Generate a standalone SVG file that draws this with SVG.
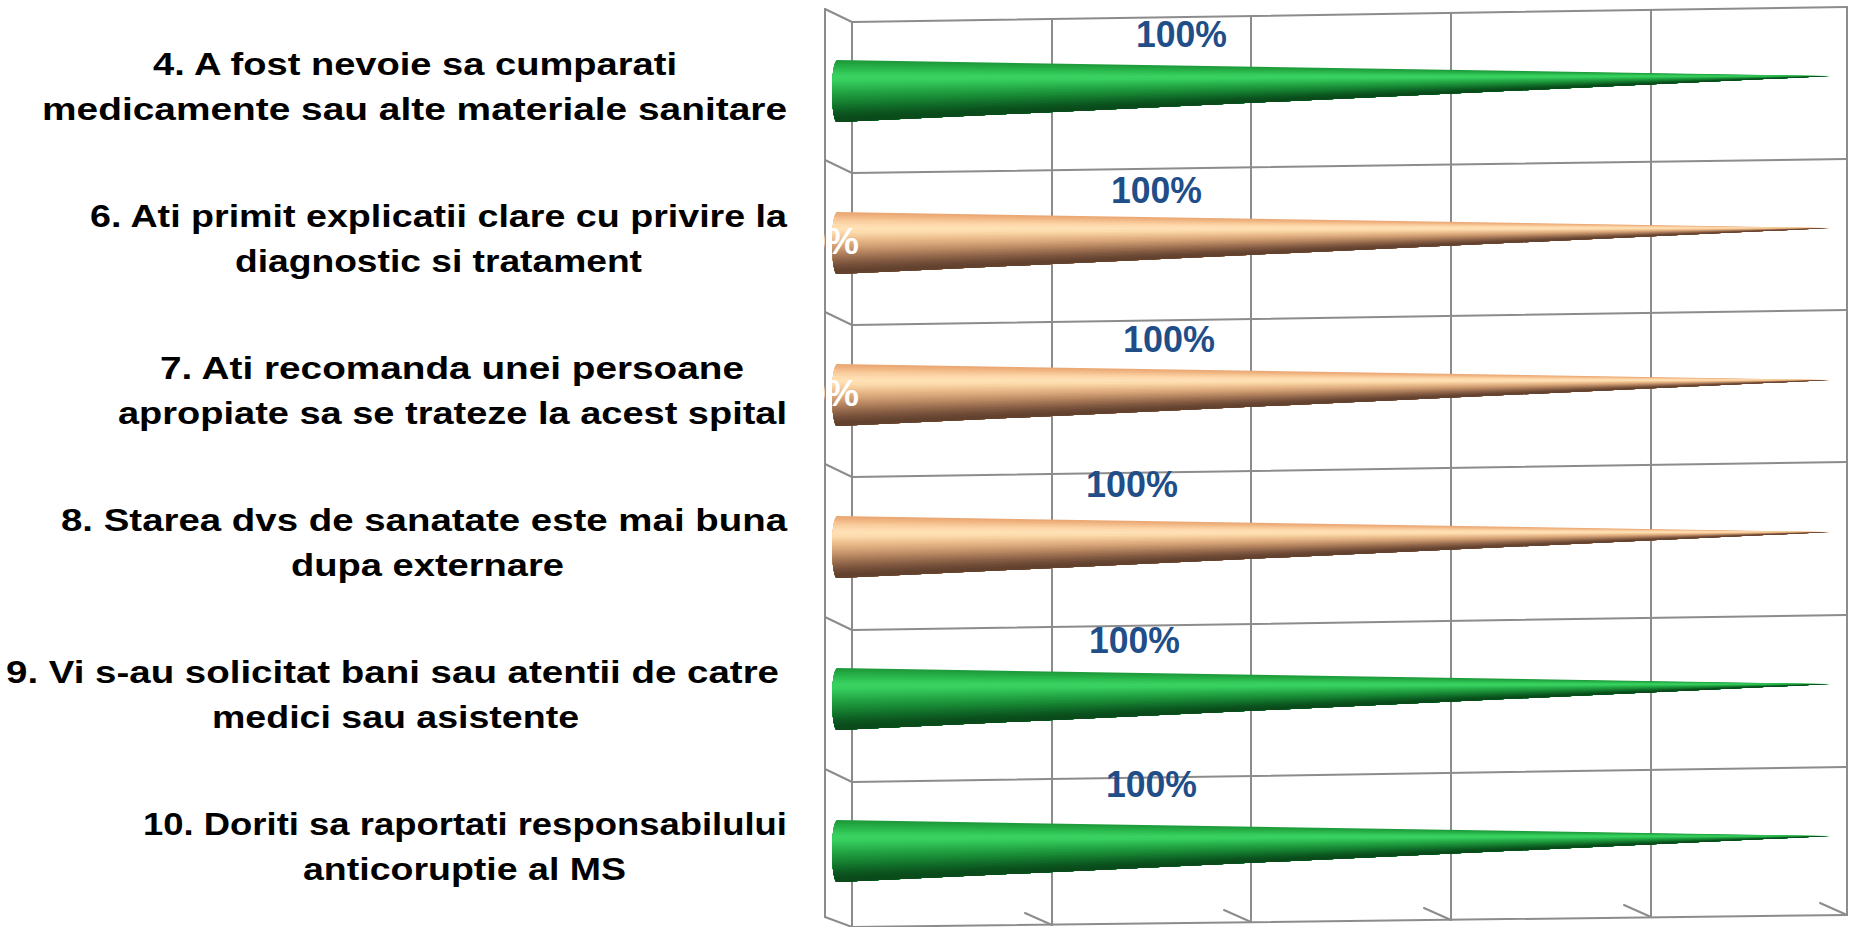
<svg xmlns="http://www.w3.org/2000/svg" xmlns:xlink="http://www.w3.org/1999/xlink" width="1850" height="927" viewBox="0 0 1850 927">
<style>
.grid{stroke:#8c8c8c;stroke-width:2;fill:none;stroke-linecap:round}
.lbl{font-family:"Liberation Sans",Arial,sans-serif;font-weight:bold;font-size:32px;fill:#000}
.val{font-family:"Liberation Sans",Arial,sans-serif;font-weight:bold;font-size:37px;fill:#1f4e89}
.wval{font-family:"Liberation Sans",Arial,sans-serif;font-weight:bold;font-size:37px;fill:#fff}
</style>
<defs>
<clipPath id="coneClip"><path d="M837,-31 L1830,-15 L837,31 A5,31 0 0 1 837,-31 Z"/></clipPath>
<g id="coneG">
<g clip-path="url(#coneClip)">
<polygon points="1830,-15 780,-80 780,80" fill="#1e9b3b"/>
<polygon points="1830,-15 780,-29.85 780,80" fill="#21a23f"/>
<polygon points="1830,-15 780,-27.8 780,80" fill="#24a944"/>
<polygon points="1830,-15 780,-25.75 780,80" fill="#27b149"/>
<polygon points="1830,-15 780,-23.7 780,80" fill="#2bb94e"/>
<polygon points="1830,-15 780,-21.65 780,80" fill="#2fc053"/>
<polygon points="1830,-15 780,-19.6 780,80" fill="#33c859"/>
<polygon points="1830,-15 780,-17.55 780,80" fill="#36cd5d"/>
<polygon points="1830,-15 780,-15.5 780,80" fill="#3ad262"/>
<polygon points="1830,-15 780,-13.45 780,80" fill="#39d060"/>
<polygon points="1830,-15 780,-11.4 780,80" fill="#38cf5f"/>
<polygon points="1830,-15 780,-9.35 780,80" fill="#34c85b"/>
<polygon points="1830,-15 780,-7.3 780,80" fill="#31c257"/>
<polygon points="1830,-15 780,-5.25 780,80" fill="#2dba52"/>
<polygon points="1830,-15 780,-3.2 780,80" fill="#2ab34d"/>
<polygon points="1830,-15 780,-1.15 780,80" fill="#26ac48"/>
<polygon points="1830,-15 780,0.9 780,80" fill="#23a544"/>
<polygon points="1830,-15 780,2.95 780,80" fill="#209e40"/>
<polygon points="1830,-15 780,5 780,80" fill="#1e973d"/>
<polygon points="1830,-15 780,7.05 780,80" fill="#1b9039"/>
<polygon points="1830,-15 780,9.1 780,80" fill="#198a36"/>
<polygon points="1830,-15 780,11.15 780,80" fill="#178232"/>
<polygon points="1830,-15 780,13.2 780,80" fill="#157b2f"/>
<polygon points="1830,-15 780,15.25 780,80" fill="#13732c"/>
<polygon points="1830,-15 780,17.3 780,80" fill="#116c29"/>
<polygon points="1830,-15 780,19.35 780,80" fill="#0f6526"/>
<polygon points="1830,-15 780,21.4 780,80" fill="#0e5e23"/>
<polygon points="1830,-15 780,23.45 780,80" fill="#0c5820"/>
<polygon points="1830,-15 780,25.5 780,80" fill="#0b521e"/>
<polygon points="1830,-15 780,27.5 780,80" fill="#0a4e1c"/>
<polygon points="1830,-15 780,29.5 780,80" fill="#0a4a1b"/>
</g>
</g>
<g id="coneO">
<g clip-path="url(#coneClip)">
<polygon points="1830,-15 780,-80 780,80" fill="#eaa874"/>
<polygon points="1830,-15 780,-29.85 780,80" fill="#eeb07d"/>
<polygon points="1830,-15 780,-27.8 780,80" fill="#f2b987"/>
<polygon points="1830,-15 780,-25.75 780,80" fill="#f5c291"/>
<polygon points="1830,-15 780,-23.7 780,80" fill="#f9cc9c"/>
<polygon points="1830,-15 780,-21.65 780,80" fill="#fbd3a5"/>
<polygon points="1830,-15 780,-19.6 780,80" fill="#fedaae"/>
<polygon points="1830,-15 780,-17.55 780,80" fill="#feddb2"/>
<polygon points="1830,-15 780,-15.5 780,80" fill="#ffe1b6"/>
<polygon points="1830,-15 780,-13.45 780,80" fill="#fddeb1"/>
<polygon points="1830,-15 780,-11.4 780,80" fill="#fcdbad"/>
<polygon points="1830,-15 780,-9.35 780,80" fill="#f8d3a4"/>
<polygon points="1830,-15 780,-7.3 780,80" fill="#f4cb9b"/>
<polygon points="1830,-15 780,-5.25 780,80" fill="#eec293"/>
<polygon points="1830,-15 780,-3.2 780,80" fill="#e9ba8b"/>
<polygon points="1830,-15 780,-1.15 780,80" fill="#e2b284"/>
<polygon points="1830,-15 780,0.9 780,80" fill="#dcab7d"/>
<polygon points="1830,-15 780,2.95 780,80" fill="#d3a276"/>
<polygon points="1830,-15 780,5 780,80" fill="#cb9a70"/>
<polygon points="1830,-15 780,7.05 780,80" fill="#c29169"/>
<polygon points="1830,-15 780,9.1 780,80" fill="#b98963"/>
<polygon points="1830,-15 780,11.15 780,80" fill="#af805c"/>
<polygon points="1830,-15 780,13.2 780,80" fill="#a57756"/>
<polygon points="1830,-15 780,15.25 780,80" fill="#9b6e50"/>
<polygon points="1830,-15 780,17.3 780,80" fill="#91664a"/>
<polygon points="1830,-15 780,19.35 780,80" fill="#875e44"/>
<polygon points="1830,-15 780,21.4 780,80" fill="#7e573f"/>
<polygon points="1830,-15 780,23.45 780,80" fill="#75503a"/>
<polygon points="1830,-15 780,25.5 780,80" fill="#6d4a36"/>
<polygon points="1830,-15 780,27.5 780,80" fill="#674632"/>
<polygon points="1830,-15 780,29.5 780,80" fill="#62422f"/>
</g>
</g>
</defs>
<rect width="1850" height="927" fill="#fff"/>
<g id="grid" class="grid">
<line x1="825" y1="9" x2="825" y2="917"/>
<line x1="852" y1="22" x2="852" y2="927"/>
<line x1="1052" y1="19" x2="1052" y2="925"/>
<line x1="1251" y1="16" x2="1251" y2="922"/>
<line x1="1451" y1="13" x2="1451" y2="920"/>
<line x1="1651" y1="10" x2="1651" y2="917"/>
<line x1="1847" y1="7" x2="1847" y2="915"/>
<line x1="852" y1="22" x2="1847" y2="7"/>
<line x1="852" y1="173" x2="1847" y2="159"/>
<line x1="852" y1="325" x2="1847" y2="310"/>
<line x1="852" y1="477" x2="1847" y2="462"/>
<line x1="852" y1="630" x2="1847" y2="615"/>
<line x1="852" y1="782" x2="1847" y2="767"/>
<line x1="852" y1="927" x2="1847" y2="915"/>
<line x1="825" y1="9" x2="852" y2="22"/>
<line x1="825" y1="160" x2="852" y2="173"/>
<line x1="825" y1="312" x2="852" y2="325"/>
<line x1="825" y1="464" x2="852" y2="477"/>
<line x1="825" y1="617" x2="852" y2="630"/>
<line x1="825" y1="769" x2="852" y2="782"/>
<line x1="825" y1="917" x2="852" y2="927"/>
<line x1="1025" y1="913" x2="1052" y2="925"/>
<line x1="1224" y1="910" x2="1251" y2="922"/>
<line x1="1424" y1="908" x2="1451" y2="920"/>
<line x1="1624" y1="905" x2="1651" y2="917"/>
<line x1="1820" y1="903" x2="1847" y2="915"/>
</g>
<g id="row1">
<use xlink:href="#coneG" href="#coneG" transform="translate(0,91)"/>
<text class="lbl" x="153" y="75" textLength="524" lengthAdjust="spacingAndGlyphs">4. A fost nevoie sa cumparati</text>
<text class="lbl" x="42" y="120" textLength="745" lengthAdjust="spacingAndGlyphs">medicamente sau alte materiale sanitare</text>
<text class="val" x="1136" y="47" textLength="91" lengthAdjust="spacingAndGlyphs">100%</text>
</g>
<g id="row2">
<use xlink:href="#coneO" href="#coneO" transform="translate(0,243)"/>
<text class="wval" x="859" y="254" text-anchor="end">0%</text>
<text class="lbl" x="90" y="227" textLength="697" lengthAdjust="spacingAndGlyphs">6. Ati primit explicatii clare cu privire la</text>
<text class="lbl" x="235" y="272" textLength="407" lengthAdjust="spacingAndGlyphs">diagnostic si tratament</text>
<text class="val" x="1111" y="203" textLength="91" lengthAdjust="spacingAndGlyphs">100%</text>
</g>
<g id="row3">
<use xlink:href="#coneO" href="#coneO" transform="translate(0,395)"/>
<text class="wval" x="859" y="406" text-anchor="end">0%</text>
<text class="lbl" x="160" y="379" textLength="584" lengthAdjust="spacingAndGlyphs">7. Ati recomanda unei persoane</text>
<text class="lbl" x="118" y="424" textLength="669" lengthAdjust="spacingAndGlyphs">apropiate sa se trateze la acest spital</text>
<text class="val" x="1123" y="352" textLength="92" lengthAdjust="spacingAndGlyphs">100%</text>
</g>
<g id="row4">
<use xlink:href="#coneO" href="#coneO" transform="translate(0,547)"/>
<text class="lbl" x="61" y="531" textLength="726" lengthAdjust="spacingAndGlyphs">8. Starea dvs de sanatate este mai buna</text>
<text class="lbl" x="291" y="576" textLength="273" lengthAdjust="spacingAndGlyphs">dupa externare</text>
<text class="val" x="1086" y="497" textLength="92" lengthAdjust="spacingAndGlyphs">100%</text>
</g>
<g id="row5">
<use xlink:href="#coneG" href="#coneG" transform="translate(0,699)"/>
<text class="lbl" x="6" y="683" textLength="773" lengthAdjust="spacingAndGlyphs">9. Vi s-au solicitat bani sau atentii de catre</text>
<text class="lbl" x="212" y="728" textLength="367" lengthAdjust="spacingAndGlyphs">medici sau asistente</text>
<text class="val" x="1089" y="653" textLength="91" lengthAdjust="spacingAndGlyphs">100%</text>
</g>
<g id="row6">
<use xlink:href="#coneG" href="#coneG" transform="translate(0,851)"/>
<text class="lbl" x="143" y="835" textLength="644" lengthAdjust="spacingAndGlyphs">10. Doriti sa raportati responsabilului</text>
<text class="lbl" x="303" y="880" textLength="323" lengthAdjust="spacingAndGlyphs">anticoruptie al MS</text>
<text class="val" x="1106" y="797" textLength="91" lengthAdjust="spacingAndGlyphs">100%</text>
</g>
</svg>
